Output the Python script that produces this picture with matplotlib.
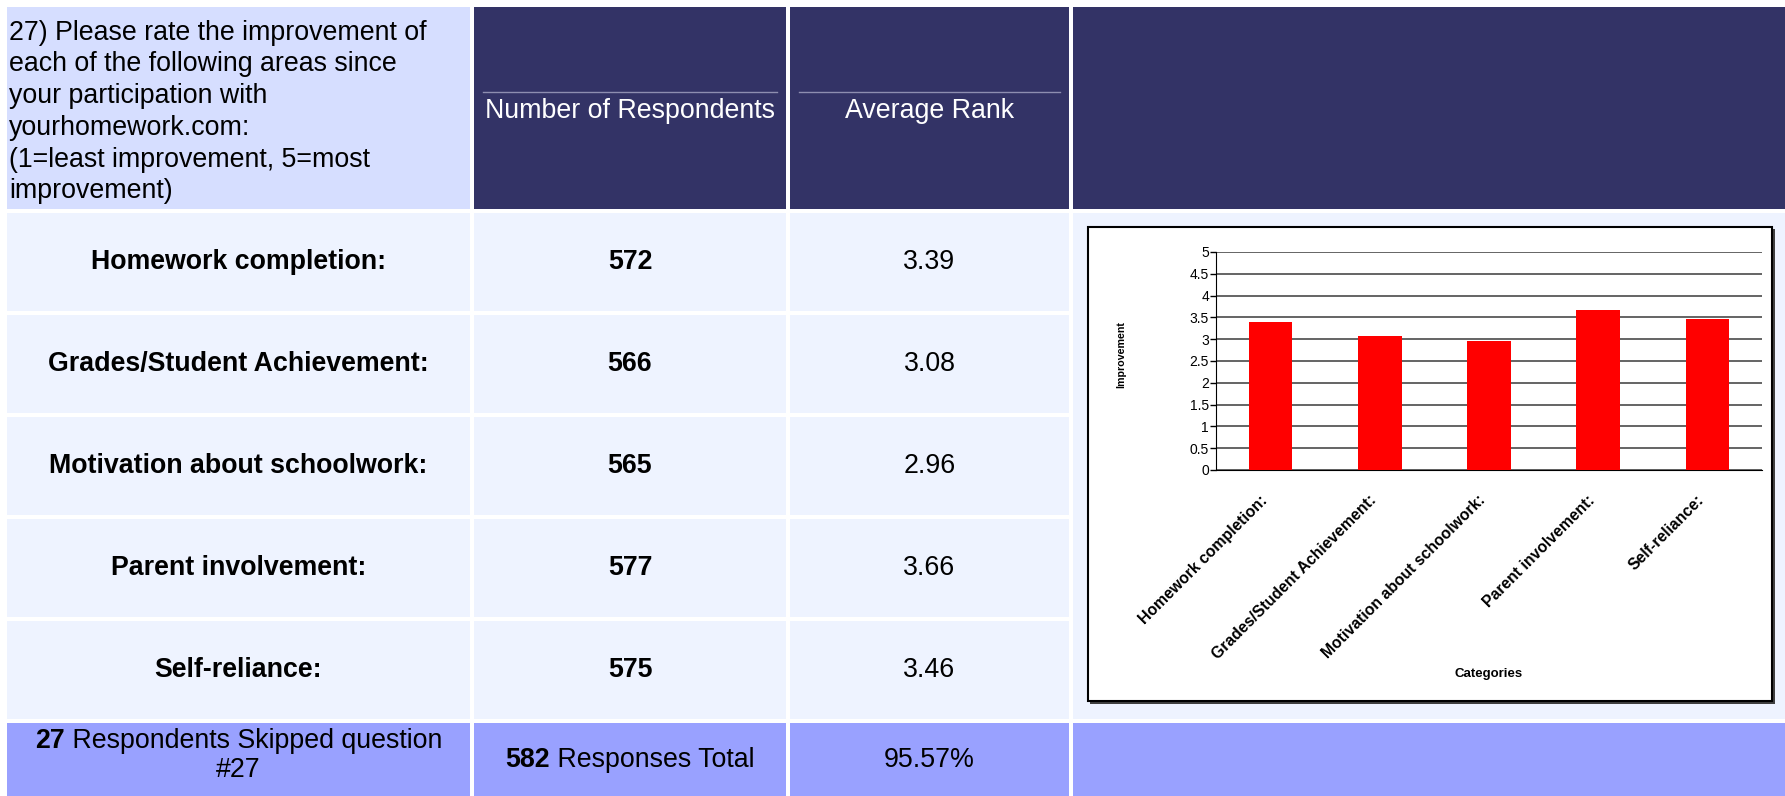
import matplotlib
matplotlib.use('Agg')
import matplotlib.pyplot as plt
import matplotlib.transforms as mtransforms
from matplotlib.patches import Rectangle

plt.rcParams['font.family'] = ['Liberation Sans', 'DejaVu Sans']

# data
question = ("27) Please rate the improvement of\neach of the following areas since\n"
            "your participation with\nyourhomework.com:\n(1=least improvement, 5=most\nimprovement)")
col_headers = ['Number of Respondents', 'Average Rank']
categories = ['Homework completion:', 'Grades/Student Achievement:', 'Motivation about schoolwork:',
              'Parent involvement:', 'Self-reliance:']
respondents = [572, 566, 565, 577, 575]
avg_rank = [3.39, 3.08, 2.96, 3.66, 3.46]
skipped = 27
total = 582
pct = '95.57%'

W, H = 1785, 796
fig = plt.figure(figsize=(W / 100, H / 100), dpi=100)
bg = fig.add_axes([0, 0, 1, 1])
bg.set_xlim(0, W)
bg.set_ylim(H, 0)
bg.axis('off')

c_head1 = '#D6DEFF'
c_navy = '#333366'
c_row = '#EEF3FF'
c_foot = '#99A1FF'

cols = [(7, 470), (474, 786), (790, 1069), (1073, W)]
head = (7, 209)
rows = [(213 + i * 102, 311 + i * 102) for i in range(5)]
foot = (723, H)

def cell(c, r, color):
    x0, x1 = c
    y0, y1 = r
    bg.add_patch(Rectangle((x0, y0), x1 - x0, y1 - y0, color=color, lw=0))

cell(cols[0], head, c_head1)
for c in cols[1:]:
    cell(c, head, c_navy)
for r in rows:
    for c in cols[:3]:
        cell(c, r, c_row)
cell(cols[3], (rows[0][0], rows[-1][1]), c_row)
for c in cols:
    cell(c, foot, c_foot)

fs = 19.3
bg.text(9, 112, question, fontsize=fs, va='center', ha='left', linespacing=1.29, color='black')

for c, lab in zip(cols[1:3], col_headers):
    bg.plot([c[0] + 9, c[1] - 9], [92, 92], color='#8E8EB0', lw=1)
    bg.text((c[0] + c[1]) / 2, 111, lab, fontsize=fs, color='white', ha='center', va='center')

for r, lab, n, a in zip(rows, categories, respondents, avg_rank):
    ym = (r[0] + r[1]) / 2
    bg.text(sum(cols[0]) / 2, ym, lab, fontsize=fs, weight='bold', ha='center', va='center')
    bg.text(sum(cols[1]) / 2, ym, str(n), fontsize=fs, weight='bold', ha='center', va='center')
    bg.text(sum(cols[2]) / 2, ym, '%.2f' % a, fontsize=fs, ha='center', va='center')

renderer = fig.canvas.get_renderer()

def mixed(xc, y, parts):
    txts = []
    widths = []
    for s, w in parts:
        t = bg.text(0, y, s, fontsize=fs, weight=w, ha='left', va='center')
        widths.append(t.get_window_extent(renderer).width)
        txts.append(t)
    x = xc - sum(widths) / 2
    for t, w in zip(txts, widths):
        t.set_x(x)
        x += w

mixed(sum(cols[0]) / 2, 741, [(str(skipped), 'bold'), (' Respondents Skipped question', 'normal')])
bg.text(sum(cols[0]) / 2, 770, '#27', fontsize=fs, ha='center', va='center')
mixed(sum(cols[1]) / 2, 760, [(str(total), 'bold'), (' Responses Total', 'normal')])
bg.text(sum(cols[2]) / 2, 760, pct, fontsize=fs, ha='center', va='center')

# embedded chart
bg.add_patch(Rectangle((1090, 229), 685, 475, color='#404040', lw=0))
bg.add_patch(Rectangle((1088, 227), 684, 474, facecolor='white', edgecolor='black', lw=1.5))

ax = fig.add_axes([1216 / W, 1 - 470 / H, 546 / W, 218 / H])
x = range(len(categories))
ax.bar(x, avg_rank, width=0.4, color='#FF0000', zorder=3)
ax.set_xlim(-0.5, len(categories) - 0.5)
ax.set_ylim(0, 5)
ax.set_yticks([i * 0.5 for i in range(11)])
ax.set_yticklabels(['0', '0.5', '1', '1.5', '2', '2.5', '3', '3.5', '4', '4.5', '5'], fontsize=10)
ax.yaxis.grid(True, color='#3a3a3a', lw=1.1, zorder=0)
ax.set_axisbelow(True)
ax.set_xticks(list(x))
ax.set_xticklabels(categories, rotation=45, ha='right', va='center', rotation_mode='anchor',
                   fontsize=11.3, weight='bold')
ax.tick_params(axis='x', length=0, pad=0)
shift = mtransforms.ScaledTranslation(-6 / 100, -28 / 100, fig.dpi_scale_trans)
for lab in ax.get_xticklabels():
    lab.set_transform(lab.get_transform() + shift)
ax.tick_params(axis='y', length=4, width=1, pad=1)
for s in ['top', 'right']:
    ax.spines[s].set_visible(False)
ax.spines['left'].set_color('black')
ax.spines['bottom'].set_color('black')
ax.set_facecolor('white')
ax.set_ylabel('Improvement', fontsize=7.7, weight='bold')
ax.yaxis.set_label_coords(-0.165, 0.53)
ax.set_xlabel('Categories', fontsize=9.5, weight='bold')
ax.xaxis.set_label_coords(0.5, -0.91)

fig.savefig('out.png', dpi=100)
